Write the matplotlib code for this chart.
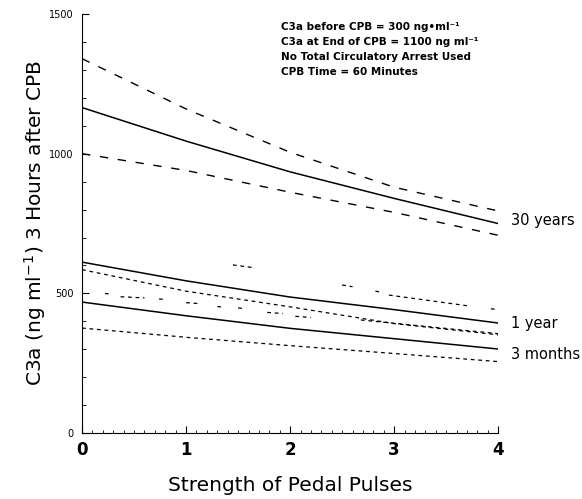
import numpy as np
import matplotlib.pyplot as plt
from matplotlib.ticker import MultipleLocator

plt.rcParams['font.family'] = ['DejaVu Sans']
plt.rcParams['mathtext.fontset'] = 'dejavusans'

# pedal pulse strength
x = [0, 1, 2, 3, 4]

# 30 years
yr30 = [1165, 1045, 935, 840, 750]
yr30_hi = [1340, 1160, 1005, 880, 795]
yr30_lo = [1000, 940, 862, 790, 708]

# 1 year
yr1 = [612, 545, 487, 442, 394]
yr1_lo = [585, 508, 452, 392, 352]
# upper bound only partly visible in the print (gaps = nan)
yr1_hi_x = [1.45, 1.65, 1.66, 2.5, 2.6, 2.61, 2.82, 2.88, 2.89, 2.95, 3.72, 3.73, 3.93, 3.98]
yr1_hi = [602, 592, np.nan, 530, 524, np.nan, 508, 504, np.nan, 494, 455, np.nan, 445, 443]

# 3 months
mo3 = [469, 420, 375, 338, 301]
mo3_lo = [376, 343, 313, 285, 256]
mo3_hi_x = [0.22, 0.28, 0.29, 0.37, 0.6, 0.61, 0.74, 0.79, 0.8, 1.0, 1.14, 1.15,
            1.3, 1.36, 1.37, 1.5, 1.55, 1.56, 1.78, 1.93, 1.94, 2.05, 2.2, 2.21, 2.68, 4.0]
mo3_hi = [500, 497, np.nan, 488, 484, np.nan, 480, 479, np.nan, 467, 463, np.nan,
          453, 451, np.nan, 448, 446, np.nan, 432, 428, np.nan, 418, 414, np.nan, 405, 356]

notes = ['C3a before CPB = 300 ng\u2022ml\u207b\u00b9',
         'C3a at End of CPB = 1100 ng ml\u207b\u00b9',
         'No Total Circulatory Arrest Used',
         'CPB Time = 60 Minutes']

fig = plt.figure(figsize=(5.82, 4.99), dpi=100)
ax = fig.add_axes([0.141, 0.132, 0.715, 0.84])

ax.plot(x, yr30, color='black', lw=1.1)
ax.plot(x, yr30_hi, color='black', lw=1.0, dashes=(6, 7))
ax.plot(x, yr30_lo, color='black', lw=1.0, dashes=(6, 7))

ax.plot(x, yr1, color='black', lw=1.1)
ax.plot(x, yr1_lo, color='black', lw=0.9, dashes=(3, 3))
ax.plot(yr1_hi_x, yr1_hi, color='black', lw=0.9, dashes=(3, 3))

ax.plot(x, mo3, color='black', lw=1.1)
ax.plot(x, mo3_lo, color='black', lw=0.9, dashes=(3, 3))
ax.plot(mo3_hi_x, mo3_hi, color='black', lw=0.9, dashes=(3, 3))

ax.set_xlim(0, 4)
ax.set_ylim(0, 1500)
ax.spines['top'].set_visible(False)
ax.spines['right'].set_visible(False)
ax.set_xticks([0, 1, 2, 3, 4])
ax.set_yticks([0, 500, 1000, 1500])
ax.xaxis.set_minor_locator(MultipleLocator(0.1))
ax.yaxis.set_minor_locator(MultipleLocator(100))
ax.tick_params(axis='x', which='both', direction='in', labelsize=12, pad=6)
ax.tick_params(axis='x', which='major', length=5)
ax.tick_params(axis='x', which='minor', length=2.5)
ax.tick_params(axis='y', which='both', direction='in', labelsize=7, pad=6)
ax.tick_params(axis='y', which='major', length=5)
ax.tick_params(axis='y', which='minor', length=3)
for lab in ax.get_xticklabels():
    lab.set_fontweight('bold')

ax.set_xlabel('Strength of Pedal Pulses', fontsize=14.5, labelpad=12)
ax.set_ylabel('C3a (ng ml$^{-1}$) 3 Hours after CPB', fontsize=14.5, labelpad=1)

for i, line in enumerate(notes):
    ax.text(1.91, 1454 - 54 * i, line, fontsize=7.5, fontweight='bold',
            va='center', ha='left')

ax.text(4.12, 762, '30 years', fontsize=10.5, va='center', clip_on=False)
ax.text(4.12, 394, '1 year', fontsize=10.5, va='center', clip_on=False)
ax.text(4.12, 280, '3 months', fontsize=10.5, va='center', clip_on=False)

fig.savefig('out.png', dpi=100)
